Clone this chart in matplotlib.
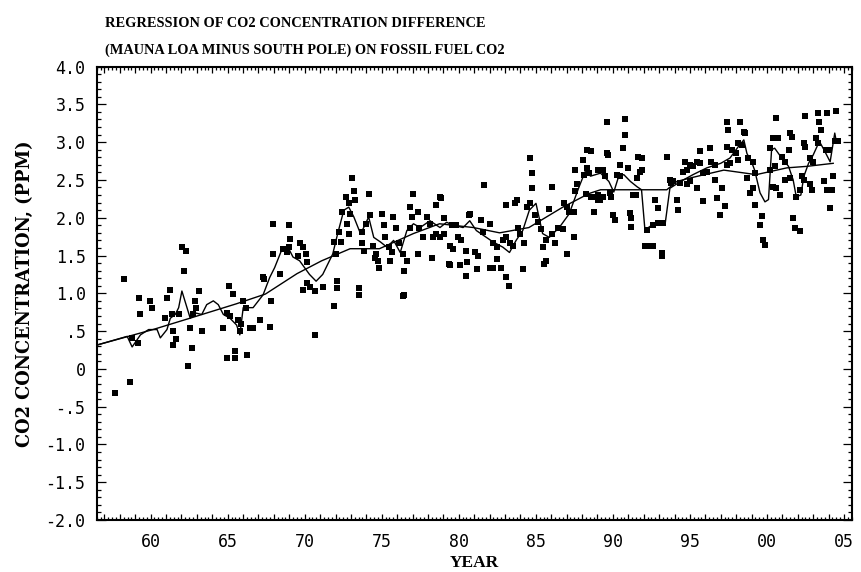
import matplotlib
matplotlib.use("Agg")
import matplotlib.pyplot as plt
from matplotlib.ticker import MultipleLocator, FixedLocator, FuncFormatter

# monthly Mauna Loa minus South Pole difference (year - 1900, ppm)
obs_year = [
    57.71, 58.27, 58.68, 58.77, 59.17, 59.24, 59.34, 59.97, 60.07, 60.95,
    61.06, 61.27, 61.37, 61.47, 61.47, 61.67, 61.82, 62.03, 62.17, 62.27,
    62.45, 62.57, 62.67, 62.77, 62.87, 62.97, 63.17, 63.32, 64.72, 64.94,
    64.97, 65.07, 65.17, 65.37, 65.45, 65.47, 65.67, 65.77, 65.87, 65.97,
    66.17, 66.23, 66.47, 66.67, 67.07, 67.27, 67.37, 67.73, 67.82, 67.97,
    67.97, 68.37, 68.57, 68.87, 68.97, 68.97, 69.07, 69.57, 69.67, 69.87,
    69.87, 70.07, 70.17, 70.17, 70.37, 70.67, 70.67, 71.17,
    71.90, 72.00, 72.11, 72.11, 71.90, 72.22, 72.33, 72.43, 72.65, 73.08,
    73.19, 73.29, 72.85, 72.95, 72.75, 72.85, 73.51, 73.51, 73.75, 73.95,
    74.25, 74.15, 73.75, 73.85, 74.45, 74.75, 74.85, 74.55, 74.65, 75.02,
    75.12, 75.23, 75.45, 75.55, 75.65, 75.75, 75.95, 76.15, 76.35, 76.45,
    76.35, 76.45, 76.65, 76.85, 77.05, 76.95, 76.85, 77.35, 77.45, 77.35,
    77.70, 77.95, 78.15, 78.35, 78.25, 78.55, 78.75, 78.85, 78.55, 78.75,
    79.05, 79.05, 79.35, 79.45, 79.45, 79.65, 79.55, 79.85, 79.95, 80.15,
    80.05, 80.45, 80.55, 80.65, 80.75, 80.45, 81.05, 81.25, 81.15, 81.45,
    81.65, 81.55, 82.05, 82.05, 82.25, 82.25, 82.45, 82.45, 82.75, 82.85,
    83.05, 83.05, 83.05, 83.25, 83.35, 83.55, 83.65, 83.75, 83.85, 83.95,
    84.15, 84.25, 84.45, 84.65, 84.65, 84.75, 84.75, 84.95, 85.15, 85.35,
    85.45, 85.65, 85.55, 85.65, 85.85, 86.05, 86.05, 86.25, 86.45, 86.75,
    86.85, 87.05, 87.05, 87.15, 87.45, 87.45, 87.55, 87.65, 87.55,
    88.35, 88.55, 88.05, 88.35, 88.15, 88.45, 88.25, 88.55, 88.85, 89.05,
    89.05, 88.75, 89.05,
    89.59, 90.78, 90.78, 90.68, 89.59, 89.70, 90.46, 91.00, 89.38, 89.50,
    90.24, 90.46, 91.65, 91.87, 91.76, 91.54, 91.87, 93.49, 89.16, 89.38,
    89.80, 89.90, 90.03, 90.13, 91.10, 91.20, 91.20, 91.30, 91.50, 92.20,
    92.60, 92.95, 93.27, 92.10, 92.40, 92.60, 93.16, 93.16, 92.73, 92.95,
    93.70, 93.90, 94.14, 94.25, 93.80, 94.36, 94.79, 95.00, 94.57, 94.79,
    94.68, 95.44, 95.65, 95.65, 95.00, 95.20, 95.44, 95.87, 95.87, 96.09,
    96.30, 96.40, 96.60, 96.60, 96.74, 96.95, 97.06, 97.28, 97.40, 97.60,
    97.40, 97.50, 97.40, 97.70, 98.00, 98.14, 98.25, 98.50, 98.57, 98.14,
    98.36, 98.80, 99.10, 98.70, 99.10, 99.20, 98.90, 99.20, 99.66, 99.55,
    99.77, 99.87, 100.40, 100.70, 100.60, 100.20, 100.40, 100.60, 100.85, 100.20,
    100.50, 100.96, 101.20, 101.50, 101.60, 101.40, 101.20, 101.70, 101.80, 102.15,
    101.50, 101.90, 102.30, 102.40, 102.15, 102.40, 102.50, 102.50, 102.80, 103.00,
    102.80, 102.90, 103.20, 103.30, 103.30, 103.40, 103.50, 103.90, 103.80, 104.00,
    103.70, 103.90, 104.10, 104.20, 104.30, 104.50, 104.40, 104.60,
]
obs_ppm = [
    -0.32, 1.19, -0.18, 0.41, 0.34, 0.94, 0.73, 0.90, 0.81, 0.67,
    0.94, 1.05, 0.72, 0.50, 0.32, 0.40, 0.72, 1.61, 1.30, 1.56,
    0.04, 0.54, 0.27, 0.72, 0.90, 0.81, 1.03, 0.50, 0.54, 0.14,
    0.74, 1.10, 0.70, 0.99, 0.14, 0.23, 0.65, 0.50, 0.60, 0.90,
    0.81, 0.18, 0.54, 0.54, 0.65, 1.21, 1.19, 0.56, 0.90, 1.92,
    1.52, 1.25, 1.58, 1.54, 1.61, 1.90, 1.72, 1.50, 1.67, 1.61,
    1.05, 1.52, 1.41, 1.14, 1.08, 1.03, 0.45, 1.08,
    1.68, 1.52, 1.16, 1.07, 0.83, 1.81, 1.68, 2.08, 2.28, 2.52,
    2.36, 2.23, 2.19, 2.05, 1.92, 1.79, 1.07, 0.98, 1.81, 1.92,
    2.03, 2.32, 1.67, 1.56, 1.63, 1.43, 1.34, 1.47, 1.52, 2.05,
    1.90, 1.74, 1.61, 1.43, 1.54, 2.01, 1.87, 1.67, 1.52, 1.30,
    0.97, 0.98, 1.43, 2.14, 2.32, 2.01, 1.87, 2.07, 1.87, 1.52,
    1.74, 2.01, 1.92, 1.74, 1.47, 2.17, 2.28, 2.26, 1.79, 1.74,
    1.79, 1.99, 1.39, 1.37, 1.63, 1.58, 1.90, 1.90, 1.74, 1.70,
    1.37, 1.23, 1.41, 2.03, 2.05, 1.56, 1.54, 1.50, 1.32, 1.97,
    2.43, 1.81, 1.92, 1.34, 1.34, 1.67, 1.61, 1.45, 1.34, 1.70,
    1.74, 2.17, 1.21, 1.10, 1.67, 1.63, 2.19, 2.23, 1.87, 1.79,
    1.32, 1.67, 2.14, 2.19, 2.79, 2.59, 2.39, 2.03, 1.94, 1.85,
    1.61, 1.70, 1.39, 1.43, 2.12, 2.41, 1.79, 1.67, 1.87, 1.85,
    2.19, 2.14, 1.52, 2.07, 2.07, 1.74, 2.36, 2.45, 2.63,
    2.90, 2.88, 2.77, 2.66, 2.57, 2.59, 2.32, 2.27, 2.27, 2.30,
    2.23, 2.07, 2.63,
    3.27, 3.30, 3.10, 2.92, 2.85, 2.83, 2.70, 2.66, 2.63, 2.55,
    2.57, 2.55, 2.81, 2.79, 2.61, 2.52, 2.63, 2.81, 2.24, 2.28,
    2.33, 2.28, 2.04, 1.97, 2.06, 1.99, 1.88, 2.30, 2.30, 1.84,
    1.91, 1.93, 1.93, 1.62, 1.62, 1.62, 1.53, 1.49, 2.24, 2.13,
    2.50, 2.48, 2.24, 2.10, 2.46, 2.46, 2.44, 2.48, 2.61, 2.63,
    2.74, 2.74, 2.72, 2.88, 2.70, 2.68, 2.39, 2.22, 2.59, 2.61,
    2.92, 2.74, 2.70, 2.50, 2.26, 2.04, 2.39, 2.15, 2.70, 2.72,
    3.27, 3.16, 2.94, 2.90, 2.85, 2.77, 3.27, 3.14, 3.12, 2.99,
    2.96, 2.79, 2.74, 2.52, 2.39, 2.59, 2.33, 2.17, 2.02, 1.91,
    1.71, 1.64, 3.05, 3.05, 3.32, 2.92, 2.41, 2.39, 2.30, 2.63,
    2.68, 2.81, 2.74, 3.12, 3.07, 2.90, 2.50, 1.99, 1.86, 1.82,
    2.52, 2.28, 2.55, 2.50, 2.37, 2.99, 2.94, 3.34, 2.79, 2.74,
    2.44, 2.37, 3.05, 2.99, 3.38, 3.27, 3.16, 3.38, 2.90, 2.90,
    2.48, 2.37, 2.13, 2.37, 2.55, 3.41, 3.01, 3.01,
]

# running mean of the difference
run_year = [
    56.60, 58.48, 58.80, 59.34, 59.87, 60.42, 60.63, 61.06, 61.28, 61.60,
    61.82, 62.03, 62.36, 62.57, 62.89, 63.32, 63.64, 64.07, 64.39, 64.72,
    65.15, 65.58, 65.79, 66.01, 66.65, 67.30, 67.73, 68.05, 68.48, 68.91,
    69.24, 69.67, 70.31, 70.74, 71.17, 71.82, 72.14, 72.54, 72.86, 73.19,
    73.62, 73.83, 74.15, 74.48, 74.91, 75.34, 75.77, 76.20, 76.63, 77.06,
    77.49, 78.13, 78.78, 79.21, 79.64, 80.28, 80.71, 81.14, 81.79, 82.22,
    82.86, 83.29, 83.72, 84.15, 84.58, 85.01, 85.44, 85.87, 86.52, 87.16,
    87.81, 88.24, 88.55, 89.20, 89.74, 90.06, 90.38, 90.71, 91.14, 91.57,
    91.86, 92.08, 92.60, 92.95, 93.40, 93.70, 94.40, 95.20, 96.10, 97.00,
    97.60, 98.14, 98.50, 98.70, 99.00, 99.20, 99.55, 99.87, 100.10, 100.30,
    100.50, 100.96, 101.40, 101.70, 101.90, 102.20, 102.40, 102.70, 103.00, 103.40,
    103.70, 104.10, 104.40, 104.50,
]
run_ppm = [
    0.32, 0.43, 0.29, 0.45, 0.52, 0.52, 0.41, 0.52, 0.67, 0.72,
    0.81, 1.03, 0.81, 0.67, 0.74, 0.72, 0.85, 0.90, 0.85, 0.72,
    0.67, 0.58, 0.45, 0.81, 0.81, 0.98, 1.21, 1.34, 1.56, 1.61,
    1.48, 1.43, 1.25, 1.16, 1.25, 1.52, 1.79, 2.10, 2.14, 2.01,
    1.79, 1.87, 2.01, 1.74, 1.68, 1.61, 1.70, 1.54, 1.83, 1.92,
    1.87, 1.96, 1.87, 1.94, 1.90, 1.87, 1.96, 1.83, 1.74, 1.68,
    1.61, 1.54, 1.70, 1.83, 2.10, 2.19, 1.79, 1.74, 1.87, 2.05,
    2.41, 2.63, 2.55, 2.59, 2.48, 2.34, 2.55, 2.57, 2.48, 2.41,
    2.37, 1.84, 1.91, 1.93, 1.93, 2.39, 2.48, 2.57, 2.66, 2.72,
    2.79, 2.94, 3.03, 2.85, 2.74, 2.63, 2.33, 2.21, 2.24, 2.90,
    2.92, 2.79, 2.68, 2.50, 2.28, 2.30, 2.55, 2.72, 2.83, 3.01,
    2.90, 2.74, 3.12, 3.01,
]

# regression on fossil fuel CO2
fit_year = [
    56.60, 60.15, 62.55, 65.55, 67.45, 69.50, 71.10, 72.95, 74.85, 77.05,
    78.75, 80.95, 82.65, 84.55, 86.75, 88.45, 89.20, 91.70, 93.50, 94.15,
    95.10, 97.20, 99.30, 101.30, 102.60, 104.30,
]
fit_ppm = [
    0.32, 0.52, 0.67, 0.86, 0.99, 1.26, 1.43, 1.59, 1.59, 1.79,
    1.92, 1.87, 1.80, 1.87, 2.14, 2.32, 2.37, 2.37, 2.37, 2.48,
    2.53, 2.63, 2.57, 2.66, 2.68, 2.72,
]

x_ticks = [60, 65, 70, 75, 80, 85, 90, 95, 100, 105]
x_tick_labels = ['60', '65', '70', '75', '80', '85', '90', '95', '00', '05']
y_ticks = [-2.0, -1.5, -1.0, -0.5, 0.0, 0.5, 1.0, 1.5, 2.0, 2.5, 3.0, 3.5, 4.0]
y_tick_labels = ['-2.0', '-1.5', '-1.0', '-.5', '0', '.5', '1.0', '1.5',
                 '2.0', '2.5', '3.0', '3.5', '4.0']

fig = plt.figure(figsize=(8.61, 5.72), dpi=100)
ax = fig.add_axes([0.1123, 0.0909, 0.8769, 0.7927])

ax.plot(run_year, run_ppm, color='black', lw=1.0)
ax.plot(fit_year, fit_ppm, color='black', lw=1.0)
ax.scatter(obs_year, obs_ppm, marker='s', s=13, color='black', linewidths=0, zorder=3)

ax.set_xlim(56.5, 105.5)
ax.set_ylim(-2.0, 4.0)

# x: tick every year (labels every 5), small ticks every quarter
ax.xaxis.set_major_locator(MultipleLocator(1))
ax.xaxis.set_minor_locator(MultipleLocator(0.25))
xlab = dict(zip(x_ticks, x_tick_labels))
ax.xaxis.set_major_formatter(FuncFormatter(lambda v, p: xlab.get(int(round(v)), '') if abs(v - round(v)) < 1e-6 else ''))
ax.yaxis.set_major_locator(FixedLocator(y_ticks))
ax.yaxis.set_minor_locator(MultipleLocator(0.1))
ax.set_yticklabels(y_tick_labels)

ax.tick_params(axis='both', which='both', direction='in', top=True, right=True,
               width=0.9, color='black')
ax.tick_params(axis='x', which='major', length=4.0, pad=9)
ax.tick_params(axis='x', which='minor', length=2.0)
ax.tick_params(axis='y', which='major', length=6.5, pad=8)
ax.tick_params(axis='y', which='minor', length=3.0)
for lab in ax.get_xticklabels() + ax.get_yticklabels():
    lab.set_fontfamily('DejaVu Sans Mono')
    lab.set_fontsize(12)

for sp in ax.spines.values():
    sp.set_linewidth(1.5)

ax.set_xlabel('YEAR', family='Liberation Serif', fontweight='bold', fontsize=12.5, labelpad=3)
ax.set_ylabel('CO2 CONCENTRATION, (PPM)', family='DejaVu Serif', fontweight='bold',
              fontsize=12.8, labelpad=8)

fig.text(0.122, 0.9528, 'REGRESSION OF CO2 CONCENTRATION DIFFERENCE', family='Liberation Serif',
         fontweight='bold', fontsize=10.4, va='baseline', ha='left')
fig.text(0.122, 0.9056, '(MAUNA LOA MINUS SOUTH POLE) ON FOSSIL FUEL CO2', family='Liberation Serif',
         fontweight='bold', fontsize=10.4, va='baseline', ha='left')

fig.savefig('out.png', dpi=100)
